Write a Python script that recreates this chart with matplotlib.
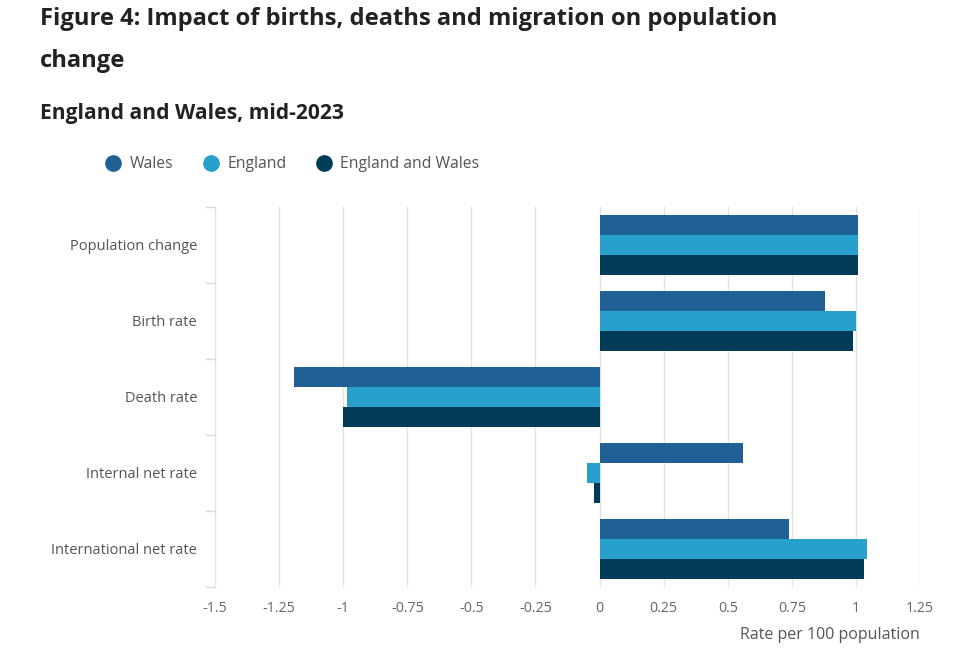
import matplotlib
matplotlib.use("Agg")
import matplotlib.pyplot as plt
import numpy as np
from matplotlib.lines import Line2D
import matplotlib.transforms as mtransforms

categories = ["Population change", "Birth rate", "Death rate", "Internal net rate", "International net rate"]
series_names = ["Wales", "England", "England and Wales"]
wales = [1.01, 0.88, -1.19, 0.56, 0.74]
england = [1.01, 1.00, -0.985, -0.05, 1.045]
england_wales = [1.01, 0.99, -1.00, -0.02, 1.03]
xticks = [-1.5, -1.25, -1, -0.75, -0.5, -0.25, 0, 0.25, 0.5, 0.75, 1, 1.25]
xtick_labels = ["-1.5", "-1.25", "-1", "-0.75", "-0.5", "-0.25", "0", "0.25", "0.5", "0.75", "1", "1.25"]
colors = ["#206095", "#27a0cc", "#003c57"]

plt.rcParams['font.family'] = ['Open Sans', 'DejaVu Sans']

fig = plt.figure(figsize=(9.8, 6.59), dpi=100)
ax = fig.add_axes([215/980, 1-587/659, (920-215)/980, (587-207)/659])

n = len(categories)
y = np.arange(n)
h = 0.263
for i, (vals, c) in enumerate(zip([wales, england, england_wales], colors)):
    ax.barh(y + (i - 1) * h, vals, height=h, color=c, zorder=3)

ax.set_ylim(n - 0.5, -0.5)
ax.set_xlim(-1.5, 1.25)
ax.set_xticks(xticks)
ax.set_xticklabels(xtick_labels)
ax.set_yticks(y)
ax.set_yticklabels(categories)
ax.set_yticks(np.arange(n + 1) - 0.5, minor=True)
ax.tick_params(axis='y', which='major', length=0, pad=18, labelsize=10.5, labelcolor='#555555')
ax.tick_params(axis='y', which='minor', length=7, color='#d9d9d9', width=1)
ax.tick_params(axis='x', length=0, pad=10, labelsize=10.3, labelcolor='#666666')
ax.grid(axis='x', color='#e2e2e2', linewidth=1, zorder=0)
for s in ['top', 'right', 'bottom']:
    ax.spines[s].set_visible(False)
ax.spines['left'].set_color('#d9d9d9')
ax.spines['left'].set_zorder(0)
offset = mtransforms.ScaledTranslation(7/100, 0, fig.dpi_scale_trans)
for lbl in ax.get_yticklabels():
    lbl.set_transform(lbl.get_transform() + offset)

fig.text(40/980, 1-19/659, "Figure 4: Impact of births, deaths and migration on population",
         fontsize=17.1, fontweight='bold', color='#222222', va='center', ha='left')
fig.text(40/980, 1-61/659, "change",
         fontsize=17.1, fontweight='bold', color='#222222', va='center', ha='left')
fig.text(40/980, 1-114/659, "England and Wales, mid-2023",
         fontsize=15.1, fontweight='bold', color='#222222', va='center', ha='left')

handles = [Line2D([0], [0], marker='o', linestyle='none', markersize=11,
                  markerfacecolor=c, markeredgecolor=c) for c in colors]
fig.legend(handles, series_names, loc='center left', bbox_to_anchor=(91/980, 1-164/659),
           ncol=3, frameon=False, fontsize=11.3, labelcolor='#555555',
           handletextpad=0.55, columnspacing=1.9, handlelength=1.0)

fig.text(920/980, 1-635/659, "Rate per 100 population", fontsize=11.5, color='#555555',
         ha='right', va='center')

fig.savefig("out.png", dpi=100, facecolor='white')
